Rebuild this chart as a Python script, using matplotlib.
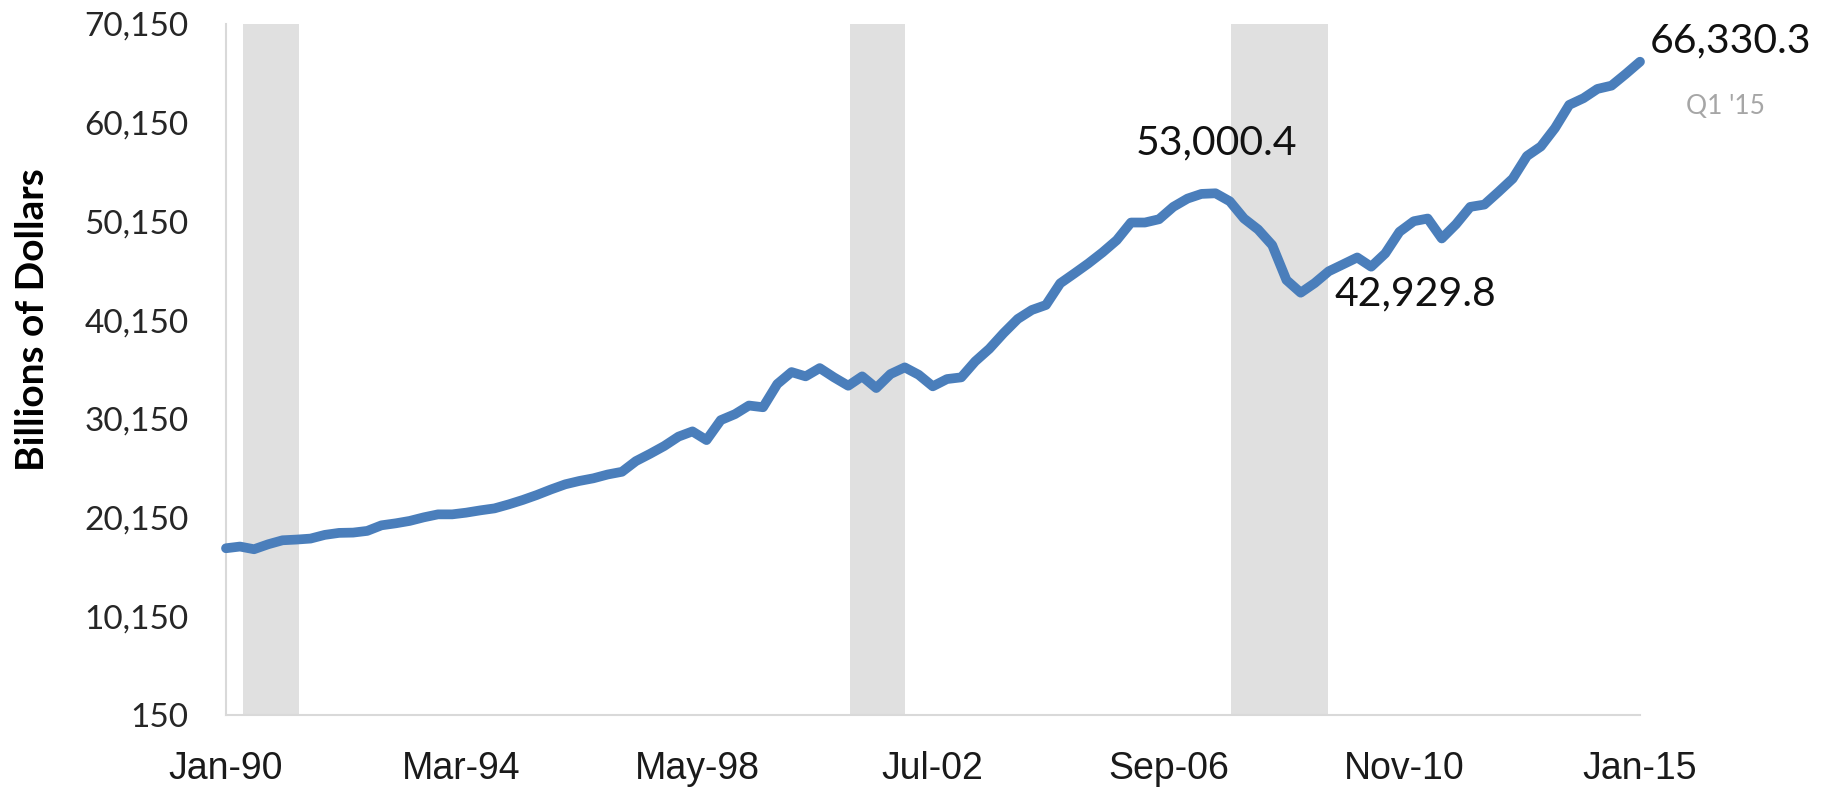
import matplotlib
matplotlib.use("Agg")
import matplotlib.pyplot as plt
import numpy as np
import pandas as pd

# ---- data (Billions of Dollars, quarterly Q1 1990 .. Q1 2015) ----
start_date = "1990-01-01"
net_worth = [
    17042, 17214, 16942, 17447, 17850, 17921, 18022, 18396, 18598, 18628,
    18800, 19365, 19567, 19810, 20173, 20476, 20476, 20648, 20880, 21082,
    21487, 21931, 22436, 23001, 23520, 23860, 24130, 24515, 24789, 25869,
    26607, 27400, 28350, 28880, 28000, 30020, 30630, 31500, 31326, 33677,
    34889, 34455, 35293, 34354, 33505, 34455, 33273, 34687, 35364, 34616,
    33445, 34182, 34354, 35970, 37242, 38828, 40272, 41181, 41686, 43878,
    44888, 45898, 47009, 48251, 50039, 50039, 50372, 51625, 52463, 52938,
    53000.4, 52190, 50443, 49332, 47747, 44212, 42929.8, 43900, 45100, 45797,
    46500, 45565, 46908, 49100, 50170, 50443, 48423, 49867, 51625, 51857,
    53140, 54483, 56776, 57745, 59604, 61957, 62634, 63573, 63906, 65088,
    66330.3,
]
recession_start = ["1990-04-21", "2001-01-10", "2007-10-07"]
recession_end = ["1991-04-16", "2002-01-04", "2009-06-28"]
tick_dates = ["1990-01-01", "1994-03-01", "1998-05-01", "2002-07-01",
              "2006-09-01", "2010-11-01", "2015-01-01"]
tick_labels = ["Jan-90", "Mar-94", "May-98", "Jul-02", "Sep-06", "Nov-10", "Jan-15"]
y_ticks = [150, 10150, 20150, 30150, 40150, 50150, 60150, 70150]
peak_label = "53,000.4"
trough_label = "42,929.8"
last_label = "66,330.3"
last_period = "Q1 '15"
y_title = "Billions of Dollars"

dates = pd.date_range(start_date, periods=len(net_worth), freq="QS")

fig = plt.figure(figsize=(18.26, 7.95), dpi=100)
ax = fig.add_axes([226 / 1826, 1 - 715 / 795, (1640 - 226) / 1826, (715 - 24) / 795])

for s, e in zip(recession_start, recession_end):
    ax.axvspan(pd.Timestamp(s), pd.Timestamp(e), color="#E0E0E0", lw=0, zorder=0)

ax.plot(dates, net_worth, color="#4A7EBB", lw=7, solid_joinstyle="round",
        solid_capstyle="round", zorder=3, clip_on=False)

ax.set_xlim(dates[0], dates[-1])
ax.set_ylim(y_ticks[0], y_ticks[-1])
ax.set_yticks(y_ticks)
ax.set_yticklabels([f"{v:,}" for v in y_ticks], fontfamily="Lato", fontsize=24,
                   color="#262626")
ax.set_xticks([pd.Timestamp(d) for d in tick_dates])
ax.set_xticklabels(tick_labels, fontfamily=["Liberation Sans Narrow", "Liberation Sans"],
                   fontsize=27, color="#1a1a1a")
ax.tick_params(axis="y", length=0, pad=27)
ax.tick_params(axis="x", length=0, pad=26)

for side in ["top", "right"]:
    ax.spines[side].set_visible(False)
for side in ["left", "bottom"]:
    ax.spines[side].set_color("#D9D9D9")
    ax.spines[side].set_linewidth(1.5)

i_peak = int(np.argmax(net_worth[:80]))
i_trough = i_peak + int(np.argmin(net_worth[i_peak:90]))
ann_style = dict(textcoords="offset points", fontfamily="Lato", fontsize=29.5,
                 color="#111111", annotation_clip=False)
ax.annotate(peak_label, (dates[i_peak], net_worth[i_peak]), xytext=(1, 36),
            ha="center", va="center", **ann_style)
ax.annotate(trough_label, (dates[i_trough], net_worth[i_trough]), xytext=(24.5, -1),
            ha="left", va="center", **ann_style)
ax.annotate(last_label, (dates[-1], net_worth[-1]), xytext=(7, 15),
            ha="left", va="center", **ann_style)
ax.annotate(last_period, (dates[-1], net_worth[-1]), xytext=(33, -32.5),
            textcoords="offset points", ha="left", va="center",
            fontfamily="Lato", fontsize=19, color="#A6A6A6", annotation_clip=False)

fig.text(33 / 1826, 1 - 320 / 795, y_title, rotation=90, ha="center", va="center",
         fontfamily="Lato", fontweight="bold", fontsize=28, color="#000000")

fig.savefig("out.png", dpi=100)
